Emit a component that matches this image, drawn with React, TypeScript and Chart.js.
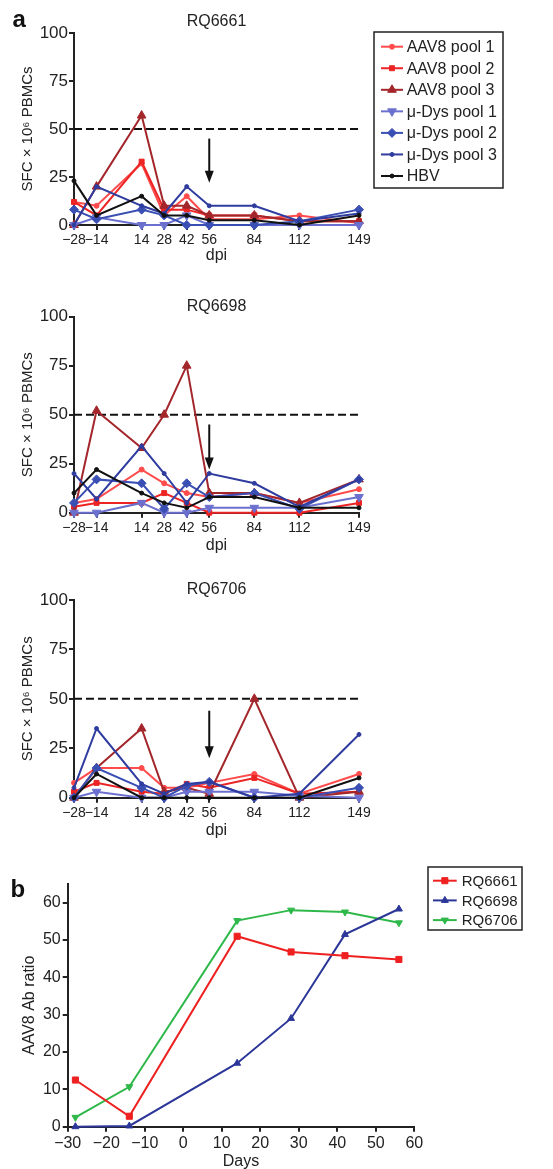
import React, { useEffect, useRef } from 'react';
import { Chart, registerables } from 'chart.js';

Chart.register(...registerables);

// ---------------- data ----------------
const DPI = [-28, -14, 14, 28, 42, 56, 84, 112, 149];
const DPI_TICKS = [-28, -14, 14, 28, 42, 56, 84, 112, 149];
const DPI_MIN = -28;
const DPI_MAX = 149;
const SFC_TICKS = [0, 25, 50, 75, 100];
const THRESHOLD = 50;
const ARROW_DAY = 56;

const SERIES_LABELS = ['AAV8 pool 1', 'AAV8 pool 2', 'AAV8 pool 3', 'μ-Dys pool 1', 'μ-Dys pool 2', 'μ-Dys pool 3', 'HBV'];

// RQ6661
const RQ6661_AAV8_1 = [12, 10, 32, 5, 15, 3, 3, 5, 1];
const RQ6661_AAV8_2 = [12, 5, 33, 8, 8, 5, 5, 2, 2];
const RQ6661_AAV8_3 = [0, 20, 57, 10, 10, 5, 5, 2, 2];
const RQ6661_DYS_1 = [0, 4, 0, 0, 5, 0, 0, 0, 0];
const RQ6661_DYS_2 = [8, 3, 8, 5, 0, 0, 0, 2, 8];
const RQ6661_DYS_3 = [0, 20, 10, 6, 20, 10, 10, 2, 6];
const RQ6661_HBV = [23, 5, 15, 5, 5, 2.5, 2.5, 0, 5];
const RQ6661_ARROW = [45, 22];

// RQ6698
const RQ6698_AAV8_1 = [5, 7, 22, 15, 10, 8, 10, 5, 12];
const RQ6698_AAV8_2 = [3, 5, 5, 10, 5, 0, 0, 0, 5];
const RQ6698_AAV8_3 = [0, 52, 33, 50, 75, 10, 10, 5, 17];
const RQ6698_DYS_1 = [0, 0, 5, 0, 0, 2.5, 2.5, 2.5, 8];
const RQ6698_DYS_2 = [5, 17, 15, 2, 15, 8, 10, 2, 17];
const RQ6698_DYS_3 = [20, 7, 34, 20, 5, 20, 15, 3, 17];
const RQ6698_HBV = [10, 22, 10, 5, 2.5, 8, 8, 2.5, 2.5];
const RQ6698_ARROW = [45, 22];

// RQ6706
const RQ6706_AAV8_1 = [7.5, 15, 15, 5, 5, 7.5, 12, 2, 12];
const RQ6706_AAV8_2 = [3, 7.5, 3, 2, 7, 5, 10, 2, 3];
const RQ6706_AAV8_3 = [0, 15, 35, 3, 5, 2, 50, 0, 3];
const RQ6706_DYS_1 = [0, 3, 0, 0, 3, 3, 3, 1, 0];
const RQ6706_DYS_2 = [0, 15, 5, 0, 6, 8, 0, 0, 5];
const RQ6706_DYS_3 = [5, 35, 7, 2, 7, 8, 0, 2, 32];
const RQ6706_HBV = [0, 12, 0, 0, 0, 0, 0, 0, 10];
const RQ6706_ARROW = [44, 20];

// panel b
const AB_DAYS = [-28, -14, 14, 28, 42, 56];
const AB_LABELS = ['RQ6661', 'RQ6698', 'RQ6706'];
const AB_RQ6661 = [12.5, 2.8, 51, 46.8, 45.8, 44.8];
const AB_RQ6698 = [0, 0.2, 17, 29, 51.5, 58.3];
const AB_RQ6706 = [2.5, 10.7, 55.2, 58, 57.5, 54.6];
const DAYS_TICKS = [-30, -20, -10, 0, 10, 20, 30, 40, 50, 60];
const RATIO_TICKS = [0, 10, 20, 30, 40, 50, 60];

// ---------------- styles ----------------
const FONT = '"Liberation Sans", Arial, Helvetica, sans-serif';
const INK = '#222222';

type Style = { color: string; pointStyle: string; radius: number; rotation?: number };
const SERIES_STYLES: Style[] = [
  { color: '#ff4b4b', pointStyle: 'circle', radius: 2.5 },
  { color: '#ec2424', pointStyle: 'rect', radius: 3.5 },
  { color: '#a3262b', pointStyle: 'triangle', radius: 5 },
  { color: '#6b70cf', pointStyle: 'triangle', radius: 5, rotation: 180 },
  { color: '#3a4fb4', pointStyle: 'rectRot', radius: 4.5 },
  { color: '#2f3c9f', pointStyle: 'circle', radius: 2 },
  { color: '#111111', pointStyle: 'circle', radius: 2 },
];
const AB_STYLES: Style[] = [
  { color: '#ee2020', pointStyle: 'rect', radius: 4.3 },
  { color: '#2b3698', pointStyle: 'triangle', radius: 4 },
  { color: '#2fb84a', pointStyle: 'triangle', radius: 4, rotation: 180 },
];

function drawMarker(ctx: CanvasRenderingContext2D, style: string, rotation: number, x: number, y: number, r: number, color: string) {
  let rad = (rotation * Math.PI) / 180;
  ctx.save();
  ctx.fillStyle = color;
  ctx.strokeStyle = color;
  ctx.lineWidth = 1;
  ctx.setLineDash([]);
  ctx.beginPath();
  if (style === 'circle') {
    ctx.arc(x, y, r, 0, Math.PI * 2);
  } else if (style === 'rect') {
    const s = r * Math.SQRT1_2;
    ctx.rect(x - s, y - s, 2 * s, 2 * s);
  } else if (style === 'rectRot') {
    ctx.moveTo(x, y - r);
    ctx.lineTo(x + r, y);
    ctx.lineTo(x, y + r);
    ctx.lineTo(x - r, y);
    ctx.closePath();
  } else {
    const step = (2 * Math.PI) / 3;
    ctx.moveTo(x + Math.sin(rad) * r, y - Math.cos(rad) * r);
    rad += step;
    ctx.lineTo(x + Math.sin(rad) * r, y - Math.cos(rad) * r);
    rad += step;
    ctx.lineTo(x + Math.sin(rad) * r, y - Math.cos(rad) * r);
    ctx.closePath();
  }
  ctx.fill();
  ctx.stroke();
  ctx.restore();
}

const boxLegend = {
  id: 'boxLegend',
  afterDraw(chart: any, _args: any, opts: any) {
    if (!opts || !opts.display) return;
    const ctx: CanvasRenderingContext2D = chart.ctx;
    ctx.save();
    ctx.lineWidth = 1.5;
    ctx.strokeStyle = INK;
    ctx.setLineDash([]);
    ctx.strokeRect(opts.box[0], opts.box[1], opts.box[2], opts.box[3]);
    ctx.font = `${opts.fontSize}px ${FONT}`;
    ctx.textBaseline = 'middle';
    ctx.textAlign = 'left';
    const items = chart.data.datasets.filter((d: any) => !d.legendHidden);
    items.forEach((ds: any, i: number) => {
      const y = opts.firstY + i * opts.step;
      ctx.strokeStyle = ds.borderColor;
      ctx.lineWidth = 2;
      ctx.beginPath();
      ctx.moveTo(opts.lineX[0], y);
      ctx.lineTo(opts.lineX[1], y);
      ctx.stroke();
      drawMarker(ctx, ds.pointStyle, ds.pointRotation || 0, (opts.lineX[0] + opts.lineX[1]) / 2, y, ds.pointRadius, ds.pointBackgroundColor);
      ctx.fillStyle = INK;
      ctx.fillText(ds.label, opts.textX, y + 1);
    });
    ctx.restore();
  },
};

const doseArrow = {
  id: 'doseArrow',
  afterDatasetsDraw(chart: any, _args: any, opts: any) {
    if (!opts || opts.x === undefined || opts.x === null) return;
    const ctx: CanvasRenderingContext2D = chart.ctx;
    const px = chart.scales.x.getPixelForValue(opts.x);
    const y1 = chart.scales.y.getPixelForValue(opts.from);
    const y2 = chart.scales.y.getPixelForValue(opts.to);
    const head = 12;
    const half = 4.5;
    ctx.save();
    ctx.strokeStyle = '#111';
    ctx.fillStyle = '#111';
    ctx.lineWidth = 2;
    ctx.setLineDash([]);
    ctx.beginPath();
    ctx.moveTo(px, y1);
    ctx.lineTo(px, y2 - head + 1);
    ctx.stroke();
    ctx.beginPath();
    ctx.moveTo(px - half, y2 - head);
    ctx.lineTo(px + half, y2 - head);
    ctx.lineTo(px, y2);
    ctx.closePath();
    ctx.fill();
    ctx.restore();
  },
};

const panelLetter = {
  id: 'panelLetter',
  afterDraw(chart: any, _args: any, opts: any) {
    if (!opts || !opts.text) return;
    const ctx: CanvasRenderingContext2D = chart.ctx;
    ctx.save();
    ctx.font = `bold 24px ${FONT}`;
    ctx.fillStyle = '#111';
    ctx.textBaseline = 'alphabetic';
    ctx.textAlign = 'left';
    ctx.fillText(opts.text, opts.x, opts.y);
    ctx.restore();
  },
};

function fmtTick(v: number) {
  return v < 0 ? '\u2212' + Math.abs(v) : String(v);
}

const axisLine = { display: true, color: INK, width: 2 };
const tickMarks = { display: true, drawOnChartArea: false, drawTicks: true, tickLength: 5, color: INK, lineWidth: 2 };

type PanelA = {
  title: string;
  top: number;
  height: number;
  padTop: number;
  titlePadBottom: number;
  xAxisH: number;
  xTitlePad: number;
  series: number[][];
  arrow: number[];
  legend: boolean;
  letter: string;
};

const PANELS_A: PanelA[] = [
  {
    title: 'RQ6661', top: 0, height: 285, padTop: 12.1, titlePadBottom: 1.7, xAxisH: 60, xTitlePad: 19.5,
    series: [RQ6661_AAV8_1, RQ6661_AAV8_2, RQ6661_AAV8_3, RQ6661_DYS_1, RQ6661_DYS_2, RQ6661_DYS_3, RQ6661_HBV],
    arrow: RQ6661_ARROW, legend: true, letter: 'a',
  },
  {
    title: 'RQ6698', top: 285, height: 285, padTop: 12.1, titlePadBottom: 0.4, xAxisH: 57.3, xTitlePad: 15,
    series: [RQ6698_AAV8_1, RQ6698_AAV8_2, RQ6698_AAV8_3, RQ6698_DYS_1, RQ6698_DYS_2, RQ6698_DYS_3, RQ6698_HBV],
    arrow: RQ6698_ARROW, legend: false, letter: '',
  },
  {
    title: 'RQ6706', top: 570, height: 280, padTop: 10.4, titlePadBottom: 0.4, xAxisH: 52.3, xTitlePad: 9.5,
    series: [RQ6706_AAV8_1, RQ6706_AAV8_2, RQ6706_AAV8_3, RQ6706_DYS_1, RQ6706_DYS_2, RQ6706_DYS_3, RQ6706_HBV],
    arrow: RQ6706_ARROW, legend: false, letter: '',
  },
];
const PANEL_B = { top: 850, height: 319 };

function makeDpiConfig(p: PanelA): any {
  const datasets: any[] = SERIES_LABELS.map((label, i) => {
    const st = SERIES_STYLES[i];
    return {
      label,
      data: DPI.map((x, j) => ({ x, y: p.series[i][j] })),
      borderColor: st.color,
      backgroundColor: st.color,
      pointBackgroundColor: st.color,
      pointBorderColor: st.color,
      pointBorderWidth: 1,
      pointStyle: st.pointStyle,
      pointRadius: st.radius,
      pointRotation: st.rotation || 0,
      borderWidth: 2,
      tension: 0,
      clip: false,
      order: SERIES_LABELS.length - i,
    };
  });
  datasets.push({
    label: 'threshold',
    legendHidden: true,
    data: [{ x: DPI_MIN, y: THRESHOLD }, { x: DPI_MAX, y: THRESHOLD }],
    borderColor: '#111',
    borderWidth: 2,
    borderDash: [8, 4],
    pointRadius: 0,
    clip: false,
    order: 20,
  });
  return {
    type: 'line',
    data: { datasets },
    plugins: [boxLegend, doseArrow, panelLetter],
    options: {
      responsive: false,
      animation: false,
      events: [],
      layout: { padding: { top: p.padTop, left: 0, right: 194, bottom: 0 } },
      scales: {
        x: {
          type: 'linear',
          min: DPI_MIN,
          max: DPI_MAX,
          afterBuildTicks: (s: any) => { s.ticks = DPI_TICKS.map((v) => ({ value: v })); },
          afterFit: (s: any) => { s.height = p.xAxisH; },
          border: axisLine,
          grid: tickMarks,
          ticks: { autoSkip: false, maxRotation: 0, font: { size: 14 }, color: INK, padding: 2, callback: (v: any) => fmtTick(Number(v)) },
          title: { display: true, text: 'dpi', font: { size: 16 }, color: INK, padding: { top: 0, bottom: p.xTitlePad } },
        },
        y: {
          type: 'linear',
          min: 0,
          max: 100,
          afterBuildTicks: (s: any) => { s.ticks = SFC_TICKS.map((v) => ({ value: v })); },
          afterFit: (s: any) => { s.width = 74; },
          border: axisLine,
          grid: tickMarks,
          ticks: { font: { size: 17 }, color: INK, padding: 1 },
          title: { display: true, text: 'SFC × 10⁶ PBMCs', font: { size: 15 }, color: INK, padding: { top: 19, bottom: 0 } },
        },
      },
      plugins: {
        legend: { display: false },
        tooltip: { enabled: false },
        title: { display: true, text: p.title, fullSize: false, font: { size: 16, weight: 'normal' }, color: INK, padding: { top: 0, bottom: p.titlePadBottom } },
        boxLegend: {
          display: p.legend,
          box: [374, 32, 129, 156],
          firstY: 46.7,
          step: 21.55,
          lineX: [381, 403],
          textX: 406.7,
          fontSize: 16,
        },
        doseArrow: { x: ARROW_DAY, from: p.arrow[0], to: p.arrow[1] },
        panelLetter: { text: p.letter, x: 12.5, y: 26.7 },
      },
    },
  };
}

function makeAbConfig(): any {
  const series = [AB_RQ6661, AB_RQ6698, AB_RQ6706];
  const datasets = AB_LABELS.map((label, i) => {
    const st = AB_STYLES[i];
    return {
      label,
      data: AB_DAYS.map((x, j) => ({ x, y: series[i][j] })),
      borderColor: st.color,
      backgroundColor: st.color,
      pointBackgroundColor: st.color,
      pointBorderColor: st.color,
      pointBorderWidth: 1,
      pointStyle: st.pointStyle,
      pointRadius: st.radius,
      pointRotation: st.rotation || 0,
      borderWidth: 2,
      tension: 0,
      clip: false,
    };
  });
  return {
    type: 'line',
    data: { datasets },
    plugins: [boxLegend, panelLetter],
    options: {
      responsive: false,
      animation: false,
      events: [],
      layout: { padding: { top: 34, left: 0, right: 138.7, bottom: 0 } },
      scales: {
        x: {
          type: 'linear',
          min: -30,
          max: 60,
          afterBuildTicks: (s: any) => { s.ticks = DAYS_TICKS.map((v) => ({ value: v })); },
          afterFit: (s: any) => { s.height = 42.3; },
          border: axisLine,
          grid: tickMarks,
          ticks: { autoSkip: false, maxRotation: 0, font: { size: 16 }, color: INK, padding: 2, callback: (v: any) => fmtTick(Number(v)) },
          title: { display: true, text: 'Days', font: { size: 16 }, color: INK, padding: { top: 0, bottom: -2.3 } },
        },
        y: {
          type: 'linear',
          min: 0,
          max: 65,
          afterBuildTicks: (s: any) => { s.ticks = RATIO_TICKS.map((v) => ({ value: v })); },
          afterFit: (s: any) => { s.width = 67.7; },
          border: axisLine,
          grid: tickMarks,
          ticks: { font: { size: 16 }, color: INK, padding: 2 },
          title: { display: true, text: 'AAV8 Ab ratio', font: { size: 16 }, color: INK, padding: { top: 20.4, bottom: 0 } },
        },
      },
      plugins: {
        legend: { display: false },
        tooltip: { enabled: false },
        boxLegend: {
          display: true,
          box: [428, 17, 94, 63],
          firstY: 30.7,
          step: 19.7,
          lineX: [433, 456.7],
          textX: 461.7,
          fontSize: 15,
        },
        panelLetter: { text: 'b', x: 10.5, y: 46.7 },
      },
    },
  };
}

export default function App() {
  const r1 = useRef<HTMLCanvasElement>(null);
  const r2 = useRef<HTMLCanvasElement>(null);
  const r3 = useRef<HTMLCanvasElement>(null);
  const r4 = useRef<HTMLCanvasElement>(null);

  useEffect(() => {
    document.body.style.margin = '0';
    Chart.defaults.font.family = FONT;
    Chart.defaults.color = INK;
    const refs = [r1, r2, r3];
    const charts: Chart[] = [];
    PANELS_A.forEach((p, i) => {
      const c = refs[i].current;
      if (c) charts.push(new Chart(c, makeDpiConfig(p)));
    });
    if (r4.current) charts.push(new Chart(r4.current, makeAbConfig()));
    return () => charts.forEach((c) => c.destroy());
  }, []);

  const canvasStyle = (top: number, height: number): React.CSSProperties => ({
    position: 'absolute', left: 0, top, width: 553, height, display: 'block',
  });

  return (
    <div style={{ position: 'relative', width: 553, height: 1169, overflow: 'hidden', background: '#fff' }}>
      <canvas ref={r1} width={553} height={PANELS_A[0].height} style={canvasStyle(PANELS_A[0].top, PANELS_A[0].height)} />
      <canvas ref={r2} width={553} height={PANELS_A[1].height} style={canvasStyle(PANELS_A[1].top, PANELS_A[1].height)} />
      <canvas ref={r3} width={553} height={PANELS_A[2].height} style={canvasStyle(PANELS_A[2].top, PANELS_A[2].height)} />
      <canvas ref={r4} width={553} height={PANEL_B.height} style={canvasStyle(PANEL_B.top, PANEL_B.height)} />
    </div>
  );
}
